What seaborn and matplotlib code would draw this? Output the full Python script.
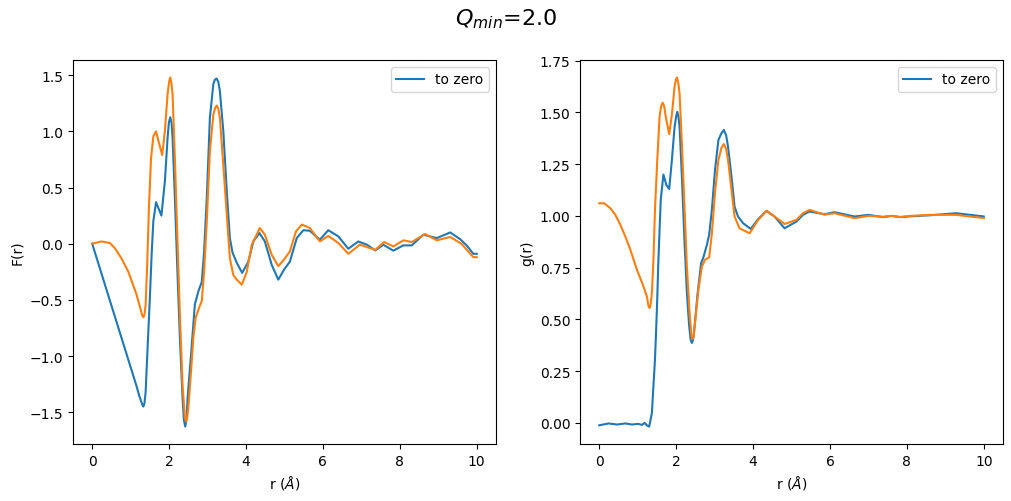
import numpy as np
import pandas as pd
import seaborn as sb
from matplotlib import pyplot as plt

## values
# F(r), blue ("to zero")
r_F_blue = [0.0, 0.5, 1.0, 1.155, 1.22, 1.30, 1.33, 1.36, 1.39, 1.44, 1.50, 1.545, 1.59, 1.66, 1.73,
            1.80, 1.89, 1.96, 1.995, 2.03, 2.065, 2.09, 2.15, 2.21, 2.28, 2.35, 2.385, 2.42, 2.45, 2.48,
            2.57, 2.67, 2.76, 2.85, 2.91, 2.98, 3.06, 3.15, 3.19, 3.235, 3.28, 3.32, 3.41, 3.50, 3.58,
            3.65, 3.76, 3.90, 4.06, 4.19, 4.35, 4.49, 4.67, 4.84, 4.99, 5.14, 5.32, 5.49, 5.66, 5.92,
            6.14, 6.40, 6.66, 6.92, 7.15, 7.36, 7.57, 7.83, 8.09, 8.31, 8.61, 8.96, 9.31, 9.57, 9.75,
            9.91, 10.0]
F_blue = [0.0, -0.55, -1.10, -1.27, -1.35, -1.43, -1.45, -1.42, -1.32, -0.93, -0.48, -0.10, 0.20, 0.37, 0.31,
          0.25, 0.555, 0.94, 1.08, 1.126, 1.07, 0.94, 0.41, -0.19, -0.84, -1.375, -1.57, -1.628, -1.57, -1.375,
          -0.99, -0.54, -0.425, -0.34, -0.07, 0.41, 1.12, 1.42, 1.46, 1.47, 1.44, 1.36, 1.00, 0.466, 0.05,
          -0.08, -0.17, -0.26, -0.16, 0.02, 0.095, 0.02, -0.19, -0.32, -0.23, -0.16, 0.05, 0.12, 0.115, 0.036,
          0.12, 0.065, -0.045, 0.02, -0.01, -0.06, -0.009, -0.062, -0.015, -0.015, 0.08, 0.05, 0.10, 0.04, -0.02,
          -0.09, -0.09]

# F(r), orange
r_F_orange = [0.0, 0.24, 0.46, 0.59, 0.76, 0.94, 1.15, 1.24, 1.30, 1.33, 1.36, 1.39, 1.43, 1.475, 1.53,
              1.59, 1.66, 1.735, 1.82, 1.89, 1.96, 2.00, 2.03, 2.06, 2.09, 2.15, 2.21, 2.28, 2.35, 2.41,
              2.44, 2.47, 2.50, 2.57, 2.63, 2.69, 2.78, 2.85, 2.91, 2.98, 3.06, 3.15, 3.20, 3.24, 3.28,
              3.32, 3.41, 3.50, 3.58, 3.67, 3.76, 3.89, 4.02, 4.15, 4.36, 4.49, 4.67, 4.84, 4.99, 5.14,
              5.30, 5.45, 5.66, 5.92, 6.14, 6.40, 6.66, 6.96, 7.36, 7.59, 7.83, 8.09, 8.31, 8.66, 8.96,
              9.31, 9.60, 9.91, 10.0]
F_orange = [0.0, 0.02, 0.006, -0.04, -0.13, -0.25, -0.45, -0.56, -0.64, -0.655, -0.63, -0.54, -0.19, 0.32, 0.76,
            0.956, 1.00, 0.90, 0.79, 1.00, 1.33, 1.44, 1.48, 1.43, 1.33, 0.76, 0.11, -0.63, -1.26, -1.55,
            -1.583, -1.55, -1.46, -1.14, -0.84, -0.66, -0.57, -0.51, -0.25, 0.20, 0.82, 1.15, 1.21, 1.23, 1.20,
            1.12, 0.70, 0.26, -0.13, -0.28, -0.32, -0.365, -0.25, -0.01, 0.14, 0.08, -0.10, -0.20, -0.14, -0.07,
            0.11, 0.17, 0.14, 0.02, 0.07, 0.006, -0.09, -0.009, -0.055, 0.015, -0.024, 0.03, 0.015, 0.086, 0.03,
            0.06, 0.0, -0.12, -0.12]

# g(r), blue ("to zero")
r_g_blue = [0.0, 0.24, 0.46, 0.68, 0.85, 1.02, 1.11, 1.18, 1.24, 1.30, 1.37, 1.41, 1.45, 1.50, 1.54,
            1.60, 1.67, 1.745, 1.82, 1.89, 1.96, 2.00, 2.03, 2.06, 2.09, 2.15, 2.22, 2.28, 2.34, 2.38,
            2.41, 2.44, 2.48, 2.56, 2.65, 2.71, 2.80, 2.86, 2.93, 3.01, 3.10, 3.18, 3.24, 3.30, 3.35,
            3.44, 3.52, 3.61, 3.74, 3.94, 4.13, 4.35, 4.56, 4.82, 5.13, 5.30, 5.47, 5.86, 6.12, 6.64,
            7.0, 7.38, 7.6, 7.83, 8.1, 8.6, 9.28, 9.97, 10.0]
g_blue = [-0.012, -0.003, -0.008, -0.003, -0.008, -0.005, -0.01, 0.0, -0.012, -0.018, 0.048, 0.177, 0.305, 0.547, 0.79,
          1.077, 1.20, 1.15, 1.13, 1.27, 1.43, 1.48, 1.503, 1.48, 1.43, 1.19, 0.868, 0.627, 0.466, 0.40,
          0.386, 0.40, 0.466, 0.627, 0.772, 0.80, 0.86, 0.91, 1.03, 1.22, 1.367, 1.40, 1.415, 1.39, 1.334,
          1.19, 1.045, 0.997, 0.965, 0.937, 0.984, 1.024, 0.997, 0.94, 0.973, 1.005, 1.021, 1.008, 1.018, 0.997,
          1.005, 0.994, 1.0, 0.994, 0.998, 1.003, 1.013, 0.998, 0.997]

# g(r), orange
r_g_orange = [0.0, 0.13, 0.29, 0.42, 0.55, 0.68, 0.81, 0.98, 1.15, 1.24, 1.28, 1.31, 1.34, 1.37, 1.41,
              1.45, 1.51, 1.57, 1.61, 1.65, 1.69, 1.73, 1.82, 1.89, 1.96, 1.99, 2.02, 2.055, 2.09, 2.15,
              2.22, 2.28, 2.35, 2.40, 2.43, 2.46, 2.49, 2.58, 2.67, 2.75, 2.86, 2.93, 3.01, 3.10, 3.18,
              3.24, 3.30, 3.35, 3.44, 3.52, 3.65, 3.91, 4.13, 4.35, 4.56, 4.82, 5.13, 5.30, 5.47, 5.86,
              6.12, 6.64, 7.0, 7.38, 7.6, 7.83, 8.09, 8.61, 9.28, 9.97, 10.0]
g_orange = [1.061, 1.061, 1.037, 1.005, 0.957, 0.90, 0.836, 0.74, 0.66, 0.61, 0.565, 0.555, 0.575, 0.627, 0.788,
            1.03, 1.27, 1.48, 1.53, 1.547, 1.53, 1.48, 1.395, 1.49, 1.624, 1.655, 1.669, 1.645, 1.59, 1.35,
            1.03, 0.755, 0.53, 0.42, 0.405, 0.42, 0.482, 0.643, 0.755, 0.788, 0.80, 0.916, 1.11, 1.27, 1.33,
            1.347, 1.325, 1.27, 1.126, 0.997, 0.94, 0.916, 0.98, 1.025, 0.997, 0.961, 0.981, 1.013, 1.029, 1.006,
            1.013, 0.989, 1.0, 0.996, 1.0, 0.995, 1.0, 1.005, 1.005, 0.99, 0.99]

#figure with two panels
fig, axes = plt.subplots(1, 2, figsize=(10.12, 5.02), dpi=100)
fig.subplots_adjust(left=0.0721, right=0.9911, bottom=0.1135, top=0.8785, wspace=0.1986)

ax = axes[0]
sb.lineplot(x=r_F_blue, y=F_blue, ax=ax, color="C0", label="to zero", sort=False, linewidth=1.5)
sb.lineplot(x=r_F_orange, y=F_orange, ax=ax, color="C1", sort=False, linewidth=1.5)
ax.set_xlabel(r"r ($\AA$)")
ax.set_ylabel("F(r)")
ax.legend(loc="upper right")

ax = axes[1]
sb.lineplot(x=r_g_blue, y=g_blue, ax=ax, color="C0", label="to zero", sort=False, linewidth=1.5)
sb.lineplot(x=r_g_orange, y=g_orange, ax=ax, color="C1", sort=False, linewidth=1.5)
ax.set_xlabel(r"r ($\AA$)")
ax.set_ylabel("g(r)")
ax.legend(loc="upper right")

fig.suptitle(r"$Q_{min}$=2.0", fontsize=16, y=0.985)
fig.savefig("out.png", dpi=100)
